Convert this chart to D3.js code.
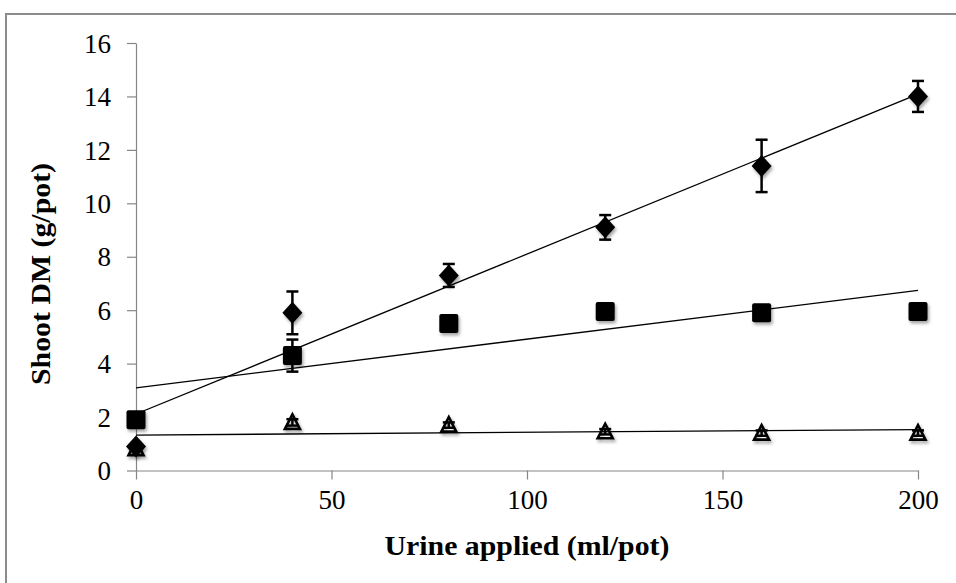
<!DOCTYPE html>
<html>
<head>
<meta charset="utf-8">
<script src="https://cdn.jsdelivr.net/npm/d3@7"></script>
<style>
  html, body { margin: 0; padding: 0; background: #fff; }
  svg { display: block; }
  .tick text { font-family: "Liberation Serif", "DejaVu Serif", serif; font-size: 27px; fill: #000; }
  .axis-title { font-family: "Liberation Serif", "DejaVu Serif", serif; font-weight: bold; fill: #000; }
</style>
</head>
<body>
<svg id="chart" width="956" height="583"></svg>
<script>
// Urine application rates (ml/pot)
const urineApplied = [0, 40, 80, 120, 160, 200];

// Shoot dry matter (g/pot) and standard errors for the three treatments
const diamondValues = [0.9, 5.9, 7.3, 9.1, 11.4, 14.0];
const diamondErrors = [0.1, 0.8, 0.43, 0.46, 0.98, 0.58];
const squareValues = [1.9, 4.3, 5.5, 5.95, 5.9, 5.95];
const squareErrors = [0.1, 0.6, 0.2, 0.2, 0.2, 0.2];
const triangleValues = [0.82, 1.8, 1.7, 1.45, 1.4, 1.4];
const triangleErrors = [0.08, 0.12, 0.1, 0.1, 0.1, 0.1];

// Axis ticks
const xTicks = [0, 50, 100, 150, 200];
const yTicks = [0, 2, 4, 6, 8, 10, 12, 14, 16];

const svg = d3.select("#chart");

// Outer chart frame
svg.append("rect")
  .attr("x", 6).attr("y", 14)
  .attr("width", 1000).attr("height", 700)
  .attr("fill", "none").attr("stroke", "#8c8c8c").attr("stroke-width", 2);

const x = d3.scaleLinear().domain([0, 200]).range([136, 918]);
const y = d3.scaleLinear().domain([0, 16]).range([470.5, 43]);

// Soft marker shadow
const defs = svg.append("defs");
const f = defs.append("filter").attr("id", "shadow")
  .attr("x", "-50%").attr("y", "-50%").attr("width", "200%").attr("height", "200%");
f.append("feDropShadow").attr("dx", 1.5).attr("dy", 2.5)
  .attr("stdDeviation", 1.8).attr("flood-color", "#000").attr("flood-opacity", 0.35);

// Axes
const axisColor = "#868686";
const yAxis = svg.append("g")
  .attr("transform", `translate(${x(0)},0)`)
  .call(d3.axisLeft(y).tickValues(yTicks).tickSize(9).tickPadding(16).tickSizeOuter(0));
const xAxis = svg.append("g")
  .attr("transform", `translate(0,${y(0)})`)
  .call(d3.axisBottom(x).tickValues(xTicks).tickSize(9).tickPadding(10).tickSizeOuter(0));
[yAxis, xAxis].forEach(g => {
  g.select(".domain").attr("stroke", axisColor).attr("stroke-width", 1.2);
  g.selectAll(".tick line").attr("stroke", axisColor).attr("stroke-width", 1.2);
});
yAxis.selectAll(".tick text").attr("dy", "0.34em");

// Least-squares trend lines
function fit(xs, ys) {
  const mx = d3.mean(xs), my = d3.mean(ys);
  const sxy = d3.sum(xs, (v, i) => (v - mx) * (ys[i] - my));
  const sxx = d3.sum(xs, v => (v - mx) ** 2);
  const slope = sxy / sxx;
  return { slope, intercept: my - slope * mx };
}
const series = [
  { values: triangleValues, errors: triangleErrors, shape: "triangle" },
  { values: squareValues, errors: squareErrors, shape: "square" },
  { values: diamondValues, errors: diamondErrors, shape: "diamond" }
];
const line = d3.line().x(d => x(d[0])).y(d => y(d[1]));
series.forEach(s => {
  const { slope, intercept } = fit(urineApplied, s.values);
  const ends = d3.extent(urineApplied).map(v => [v, intercept + slope * v]);
  svg.append("path").attr("d", line(ends))
    .attr("fill", "none").attr("stroke", "#000").attr("stroke-width", 1.3);
});

// Error bars and markers
series.forEach(s => {
  const g = svg.append("g");
  const pts = urineApplied.map((v, i) => ({ x: v, y: s.values[i], e: s.errors[i] }));
  const eb = g.selectAll(".eb").data(pts).enter().append("g")
    .attr("stroke", "#000").attr("stroke-width", 2.5);
  eb.append("line").attr("x1", d => x(d.x)).attr("x2", d => x(d.x))
    .attr("y1", d => y(d.y - d.e)).attr("y2", d => y(d.y + d.e));
  [-1, 1].forEach(sign => {
    eb.append("line")
      .attr("x1", d => x(d.x) - 6).attr("x2", d => x(d.x) + 6)
      .attr("y1", d => y(d.y + sign * d.e)).attr("y2", d => y(d.y + sign * d.e));
  });
  const m = g.selectAll(".m").data(pts).enter();
  if (s.shape === "diamond") {
    m.append("path")
      .attr("d", d => { const cx = x(d.x), cy = y(d.y);
        return `M${cx},${cy - 11}L${cx + 10},${cy}L${cx},${cy + 11}L${cx - 10},${cy}Z`; })
      .attr("fill", "#000").attr("filter", "url(#shadow)");
  } else if (s.shape === "square") {
    m.append("rect")
      .attr("x", d => x(d.x) - 9.5).attr("y", d => y(d.y) - 9.5)
      .attr("width", 19).attr("height", 19).attr("rx", 2)
      .attr("fill", "#000").attr("filter", "url(#shadow)");
  } else {
    m.append("path")
      .attr("d", d => { const cx = x(d.x), cy = y(d.y);
        return `M${cx},${cy - 8}L${cx + 7.5},${cy + 6.5}L${cx - 7.5},${cy + 6.5}Z`; })
      .attr("fill", "#fff").attr("fill-opacity", 0).attr("stroke", "#000")
      .attr("stroke-width", 2.6).attr("stroke-linejoin", "miter").attr("filter", "url(#shadow)");
  }
});

// Axis titles
svg.append("text").attr("class", "axis-title")
  .attr("x", (x(0) + x(200)) / 2).attr("y", 555)
  .attr("text-anchor", "middle").attr("font-size", 27)
  .attr("textLength", 285).attr("lengthAdjust", "spacingAndGlyphs")
  .text("Urine applied (ml/pot)");
svg.append("text").attr("class", "axis-title")
  .attr("transform", "translate(50,274) rotate(-90)")
  .attr("text-anchor", "middle").attr("font-size", 27)
  .attr("textLength", 222).attr("lengthAdjust", "spacingAndGlyphs")
  .text("Shoot DM (g/pot)");
</script>
</body>
</html>
